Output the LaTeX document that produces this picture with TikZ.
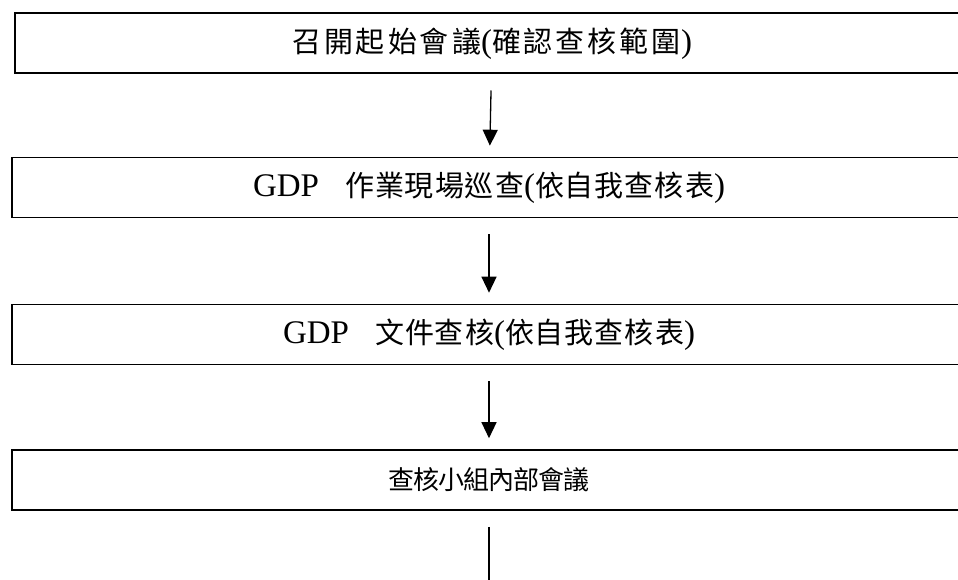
\documentclass[tikz,border=0pt]{standalone}
\usepackage{fontspec}
\setmainfont{Liberation Serif}
\newfontfamily\cjk{Noto Sans CJK TC}
\usetikzlibrary{arrows.meta}
\makeatletter
\newcommand\cjsize{29}
\newcommand\CJ[2][2pt]{{\fontsize{\cjsize}{32}\selectfont\cjk\def\mysep{}\@tfor\mych:=#2\do{\mysep\mych\def\mysep{\hspace{#1}}}}}
\makeatother
\tikzset{
  stepbox/.style={draw, line width=1.6pt, minimum width=954pt, minimum height=60pt,
    inner sep=0pt, font=\fontsize{33}{36}\selectfont},
  flow/.style={line width=1.3pt, -{Triangle[length=16pt,width=15pt]},
    shorten <=16pt, shorten >=11pt}
}
\begin{document}
\begin{tikzpicture}[x=1pt,y=1pt]
\useasboundingbox (0,0) rectangle (958,-580);
\clip (0,0) rectangle (958,-580);
\node[stepbox, line width=2pt] (b1) at (492,-43.5) {\CJ[3pt]{召開起始會議}(\CJ[3pt]{確認查核範圍})};
\node[stepbox] (b2) at (489,-187.5) {GDP\hspace{26pt}\CJ[1pt]{作業現場巡查}(\CJ[1pt]{依自我查核表})};
\node[stepbox] (b3) at (489,-334.5) {GDP\hspace{26pt}\CJ[1pt]{文件查核}(\CJ[1pt]{依自我查核表})};
\node[stepbox] (b4) at (489,-480) {\renewcommand\cjsize{26}\CJ[-1pt]{查核小組內部會議}};
\coordinate (end) at (489,-600);
\draw[flow] (b1) -- (b2);
\draw[flow] (b2) -- (b3);
\draw[flow] (b3) -- (b4);
\draw[flow, shorten >=0pt] (b4) -- (end);
\end{tikzpicture}
\end{document}
